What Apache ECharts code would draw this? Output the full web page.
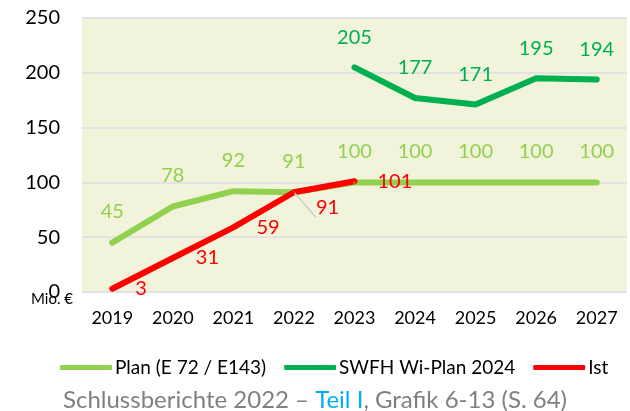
<!DOCTYPE html>
<html><head><meta charset="utf-8">
<script src="https://cdn.jsdelivr.net/npm/echarts@6/dist/echarts.min.js"></script>
<style>html,body{margin:0;padding:0;background:#fff}#c{width:630px;height:411px}</style>
</head><body><div id="c"></div>
<script>
var years = ['2019','2020','2021','2022','2023','2024','2025','2026','2027'];
var planValues = [45, 78, 92, 91, 100, 100, 100, 100, 100];
var swfhValues = [null, null, null, null, 205, 177, 171, 195, 194];
var istValues = [3, 31, 59, 91, 101, null, null, null, null];
var yTicks = [0, 50, 100, 150, 200, 250];
var seriesNames = ['Plan (E 72 / E143)', 'SWFH Wi-Plan 2024', 'Ist'];

var FONT = 'Lato';
var chart = echarts.init(document.getElementById('c'), null, {renderer: 'canvas'});

var istData = istValues.map(function (v, i) {
  if (i === 3) {
    return {value: v, label: {offset: [-1, 15]}, labelLine: {show: true}};
  }
  return v;
});

chart.setOption({
  animation: false,
  textStyle: {fontFamily: FONT},
  grid: {left: 82, right: 3, top: 18, bottom: 119, show: true, backgroundColor: '#f1f4db', borderWidth: 0},
  xAxis: {
    type: 'category', data: years, boundaryGap: true,
    axisLine: {show: false}, axisTick: {show: false},
    axisLabel: {color: '#000', fontSize: 18, fontFamily: FONT, margin: 17}
  },
  yAxis: {
    type: 'value', min: yTicks[0], max: yTicks[yTicks.length - 1], interval: 50,
    axisLine: {show: false}, axisTick: {show: false},
    axisLabel: {color: '#000', fontSize: 20, fontFamily: FONT, margin: 22},
    splitLine: {lineStyle: {color: '#e2e2e2', width: 2}}
  },
  legend: {
    data: seriesNames, left: 55, top: 353, icon: 'roundRect', itemWidth: 52, itemHeight: 5, itemGap: 18,
    textStyle: {color: '#000', fontSize: 19, fontFamily: FONT, padding: [0, 0, 0, -2]}
  },
  title: {
    left: 'center', top: 383,
    text: '{a|Schlussberichte 2022 – }{b|Teil I}{a|, Grafik 6-13 (S. 64)}',
    textStyle: {fontWeight: 'normal', rich: {
      a: {color: '#808080', fontSize: 24, fontFamily: FONT, fontWeight: 'normal'},
      b: {color: '#00b0f0', fontSize: 24, fontFamily: FONT, fontWeight: 'normal'}
    }}
  },
  graphic: [{
    type: 'text', left: 31, top: 292,
    style: {text: 'Mio. €', fill: '#000', fontSize: 15, fontFamily: FONT}
  }],
  series: [
    {
      name: seriesNames[0], type: 'line', data: planValues, symbol: 'circle', symbolSize: 2, showSymbol: true,
      lineStyle: {color: '#92d050', width: 6, cap: 'round', join: 'round'},
      itemStyle: {color: '#92d050'},
      label: {show: true, position: 'top', distance: 20, color: '#92d050', fontSize: 20, fontFamily: FONT}
    },
    {
      name: seriesNames[1], type: 'line', data: swfhValues, symbol: 'circle', symbolSize: 2, showSymbol: true,
      lineStyle: {color: '#00b050', width: 6, cap: 'round', join: 'round'},
      itemStyle: {color: '#00b050'},
      label: {show: true, position: 'top', distance: 19, color: '#00b050', fontSize: 20, fontFamily: FONT}
    },
    {
      name: seriesNames[2], type: 'line', data: istData, symbol: 'circle', symbolSize: 2, showSymbol: true,
      lineStyle: {color: '#ff0000', width: 6, cap: 'round', join: 'round'},
      itemStyle: {color: '#ff0000'},
      label: {show: true, position: 'right', distance: 22, color: '#ff0000', fontSize: 20, fontFamily: FONT},
      labelLine: {show: false, lineStyle: {color: '#cccccc', width: 1.5}}
    }
  ]
});
</script>
</body></html>
